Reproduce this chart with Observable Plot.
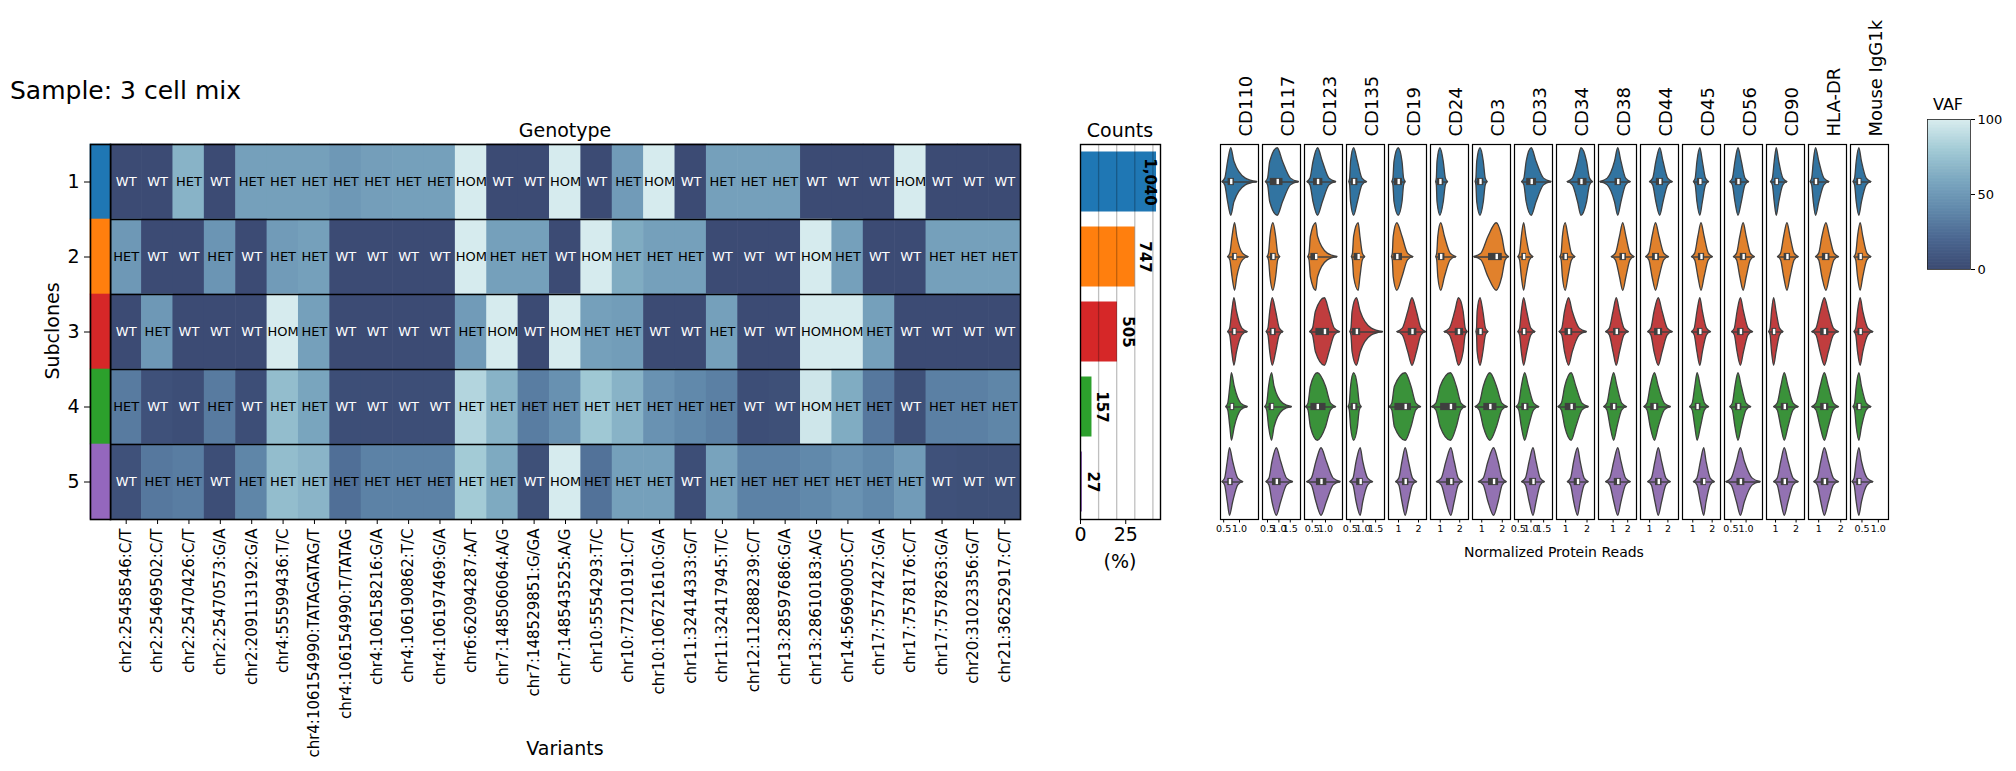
<!DOCTYPE html>
<html><head><meta charset="utf-8">
<script src="https://cdn.jsdelivr.net/npm/d3@7"></script>
<script src="https://cdn.jsdelivr.net/npm/@observablehq/plot@0.6"></script>
<style>
html,body{margin:0;padding:0;background:#fff;}
#root{position:relative;width:2016px;height:771px;font-family:"DejaVu Sans",sans-serif;overflow:hidden;background:#fff;}
.lbl{position:absolute;white-space:nowrap;color:#000;line-height:1;}
svg{overflow:visible;}
</style></head><body><div id="root"></div>
<script>
// ---------- DATA ----------
const variants = ["chr2:25458546:C/T","chr2:25469502:C/T","chr2:25470426:C/T","chr2:25470573:G/A","chr2:209113192:G/A","chr4:55599436:T/C","chr4:106154990:TATAGATAG/T","chr4:106154990:T/TATAG","chr4:106158216:G/A","chr4:106190862:T/C","chr4:106197469:G/A","chr6:62094287:A/T","chr7:148506064:A/G","chr7:148529851:G/GA","chr7:148543525:A/G","chr10:5554293:T/C","chr10:77210191:C/T","chr10:106721610:G/A","chr11:32414333:G/T","chr11:32417945:T/C","chr12:112888239:C/T","chr13:28597686:G/A","chr13:28610183:A/G","chr14:56969005:C/T","chr17:7577427:G/A","chr17:7578176:C/T","chr17:7578263:G/A","chr20:31023356:G/T","chr21:36252917:C/T"];
const subclones = [1,2,3,4,5];
const geno1 = ["WT","WT","HET","WT","HET","HET","HET","HET","HET","HET","HET","HOM","WT","WT","HOM","WT","HET","HOM","WT","HET","HET","HET","WT","WT","WT","HOM","WT","WT","WT"];
const geno2 = ["HET","WT","WT","HET","WT","HET","HET","WT","WT","WT","WT","HOM","HET","HET","WT","HOM","HET","HET","HET","WT","WT","WT","HOM","HET","WT","WT","HET","HET","HET"];
const geno3 = ["WT","HET","WT","WT","WT","HOM","HET","WT","WT","WT","WT","HET","HOM","WT","HOM","HET","HET","WT","WT","HET","WT","WT","HOM","HOM","HET","WT","WT","WT","WT"];
const geno4 = ["HET","WT","WT","HET","WT","HET","HET","WT","WT","WT","WT","HET","HET","HET","HET","HET","HET","HET","HET","HET","WT","WT","HOM","HET","HET","WT","HET","HET","HET"];
const geno5 = ["WT","HET","HET","WT","HET","HET","HET","HET","HET","HET","HET","HET","HET","WT","HOM","HET","HET","HET","WT","HET","HET","HET","HET","HET","HET","HET","WT","WT","WT"];
const vaf1 = [1,1,66,1,55,55,55,50,54,55,55,99,1,1,99,1,52,99,1,55,55,55,1,1,1,99,1,1,1];
const vaf2 = [50,1,1,48,1,52,55,1,1,1,1,99,55,55,1,99,62,55,55,1,1,1,99,55,1,1,55,55,55];
const vaf3 = [1,50,1,1,1,99,55,1,1,1,1,52,99,1,99,55,53,1,1,55,1,1,99,99,55,1,1,1,1];
const vaf4 = [32,5,3,32,3,72,58,3,3,3,3,86,66,33,45,78,66,46,40,35,3,4,96,62,30,4,35,35,38];
const vaf5 = [5,30,33,3,38,72,67,25,36,36,36,80,61,4,99,27,55,55,3,57,36,36,40,46,40,52,5,4,4];
const cloneCounts = [1040,747,505,157,27];
const vafTicks = [0,50,100];
const countTicks = [0,25];
const countGrid = [10,20,30,40];

const proteins = ["CD110","CD117","CD123","CD135","CD19","CD24","CD3","CD33","CD34","CD38","CD44","CD45","CD56","CD90","HLA-DR","Mouse IgG1k"];
const proteinDomains = [[0.4,1.6],[0.28,1.95],[0.21,1.64],[0.35,1.85],[0.5,2.4],[0.5,2.45],[0.55,2.4],[0.35,1.85],[0.57,2.35],[0,2.6],[0.5,2.58],[0.47,2.43],[0.29,1.54],[0.56,2.41],[0.54,2.26],[0.15,1.31]];
const proteinTicks = [[0.5,1.0],[0.5,1.0,1.5],[0.5,1.0],[0.5,1.0,1.5],[1,2],[1,2],[1,2],[0.5,1.0,1.5],[1,2],[1,2],[1,2],[1,2],[0.5,1.0],[1,2],[1,2],[0.5,1.0]];
// per protein, per subclone 1..5: [low, q1, median, q3, high]
const vCD110 = [[0.46,0.64,0.74,0.84,1.56],[0.64,0.78,0.86,0.93,1.29],[0.64,0.77,0.84,0.92,1.26],[0.58,0.71,0.76,0.85,1.26],[0.46,0.63,0.70,0.80,1.12]];
const vCD117 = [[0.43,0.62,0.95,1.18,1.88],[0.50,0.63,0.76,0.88,1.06],[0.46,0.62,0.73,0.88,1.20],[0.40,0.57,0.70,0.81,1.57],[0.45,0.72,0.91,1.10,1.62]];
const vCD123 = [[0.32,0.55,0.72,0.90,1.40],[0.35,0.45,0.65,0.72,1.45],[0.42,0.64,0.98,1.15,1.55],[0.27,0.45,0.71,1.02,1.40],[0.31,0.66,0.85,1.05,1.57]];
const vCD135 = [[0.46,0.53,0.65,0.80,1.16],[0.56,0.65,0.83,0.90,1.09],[0.50,0.59,0.76,0.91,1.79],[0.43,0.53,0.65,0.80,0.95],[0.50,0.75,0.91,1.01,1.40]];
const vCD19 = [[0.69,0.80,1.01,1.20,1.36],[0.67,0.76,0.94,1.20,1.75],[0.94,1.49,1.70,1.92,2.38],[0.56,0.82,1.36,1.65,2.13],[0.88,1.20,1.36,1.52,1.93]];
const vCD24 = [[0.79,0.86,1.01,1.18,1.40],[0.79,0.90,1.05,1.24,1.83],[1.22,1.77,1.96,2.20,2.41],[0.58,1.02,1.55,1.85,2.33],[0.83,1.32,1.57,1.74,2.16]];
const vCD3 = [[0.70,0.78,0.94,1.10,1.29],[0.64,1.33,1.73,2.00,2.33],[0.74,0.80,0.94,1.08,1.33],[0.70,1.10,1.42,1.74,2.27],[0.86,1.33,1.60,1.82,2.22]];
const vCD33 = [[0.65,0.83,1.03,1.22,1.81],[0.50,0.64,0.73,0.82,1.10],[0.50,0.64,0.73,0.85,1.18],[0.43,0.64,0.77,0.92,1.33],[0.65,0.95,1.10,1.22,1.55]];
const vCD34 = [[1.09,1.58,1.74,2.00,2.28],[0.75,0.87,1.00,1.13,1.46],[0.71,0.97,1.16,1.33,1.99],[0.66,0.98,1.28,1.50,2.08],[1.10,1.40,1.58,1.70,2.08]];
const vCD38 = [[0.13,1.13,1.35,1.57,2.21],[0.91,1.47,1.69,1.91,2.47],[0.52,1.03,1.25,1.47,2.08],[0.39,0.83,1.07,1.30,1.95],[0.52,1.08,1.35,1.57,2.21]];
const vCD44 = [[1.02,1.37,1.58,1.76,2.27],[0.81,1.16,1.35,1.54,2.06],[0.92,1.27,1.50,1.71,2.27],[0.71,1.06,1.29,1.50,2.16],[0.92,1.32,1.50,1.68,2.16]];
const vCD45 = [[1.06,1.24,1.39,1.52,1.84],[0.96,1.29,1.45,1.61,2.04],[0.96,1.24,1.39,1.52,1.94],[0.86,1.13,1.25,1.42,1.84],[1.06,1.42,1.59,1.71,2.14]];
const vCD56 = [[0.48,0.65,0.75,0.86,1.10],[0.60,0.81,0.92,1.02,1.29],[0.54,0.72,0.83,0.93,1.23],[0.48,0.65,0.75,0.86,1.17],[0.35,0.70,0.83,0.96,1.48]];
const vCD90 = [[0.78,0.96,1.06,1.18,1.58],[1.12,1.42,1.58,1.73,2.13],[0.69,0.83,0.93,1.05,1.39],[0.93,1.28,1.45,1.63,2.13],[0.93,1.28,1.45,1.63,2.13]];
const vHLADR = [[0.63,0.78,0.88,1.03,1.49],[0.88,1.17,1.35,1.51,1.92],[0.71,1.09,1.28,1.46,1.92],[0.71,1.09,1.28,1.46,1.92],[0.80,1.12,1.28,1.46,1.92]];
const vMouseIgG1k = [[0.24,0.34,0.42,0.50,0.79],[0.27,0.38,0.46,0.54,0.79],[0.27,0.38,0.46,0.54,0.85],[0.24,0.34,0.42,0.50,0.79],[0.21,0.34,0.42,0.50,0.85]];
const violinStats = [vCD110,vCD117,vCD123,vCD135,vCD19,vCD24,vCD3,vCD33,vCD34,vCD38,vCD44,vCD45,vCD56,vCD90,vHLADR,vMouseIgG1k];

// ---------- STYLE ----------
const cloneColors = ["#1f77b4","#ff7f0e","#d62728","#2ca02c","#9467bd"];
const violinColors = ["#3274a1","#e1812c","#c03d3e","#3a923a","#9372b2"];
const vafStops = [0,20,40,50,60,80,100];
const vafColors = ["#3b4a72","#4a6690","#6189ab","#6e98b6","#7ca8c0","#a3cbd6","#d9edef"];
const FONT = "DejaVu Sans";
const baseStyle = {background:"transparent", overflow:"visible", fontFamily:FONT, maxWidth:"none", color:"black"};

const root = document.getElementById("root");
function place(el, left, top){ el.style.position="absolute"; el.style.left=left+"px"; el.style.top=top+"px"; root.appendChild(el); }
function label(text, cx, cy, size, rot=0, weight="normal"){
  const d=document.createElement("div"); d.className="lbl"; d.textContent=text;
  d.style.fontSize=size+"px"; d.style.fontWeight=weight;
  d.style.left=cx+"px"; d.style.top=cy+"px";
  d.style.transform=`translate(-50%,-50%) rotate(${rot}deg)`;
  root.appendChild(d);
}

// ---------- HEATMAP ----------
const genos=[geno1,geno2,geno3,geno4,geno5], vafs=[vaf1,vaf2,vaf3,vaf4,vaf5];
const cells=[];
subclones.forEach((c,i)=>variants.forEach((v,j)=>cells.push({clone:c, variant:v, geno:genos[i][j], vaf:vafs[i][j]})));
const rowH = 75;
const heat = Plot.plot({
  width:914, height:2+375+240, marginLeft:2, marginRight:2, marginTop:2, marginBottom:240,
  x:{type:"band", domain:variants, padding:0, round:false},
  y:{type:"band", domain:subclones, padding:0, round:false, axis:null},
  color:{type:"linear", domain:vafStops, range:vafColors, clamp:true},
  style:baseStyle,
  marks:[
    Plot.cell(cells,{x:"variant", y:"clone", fill:"vaf", inset:-0.3}),
    Plot.text(cells.filter(d=>d.geno==="WT"),{x:"variant", y:"clone", text:"geno", fill:"white", fontSize:13}),
    Plot.text(cells.filter(d=>d.geno!=="WT"),{x:"variant", y:"clone", text:"geno", fill:"black", fontSize:13}),
    Plot.ruleY(subclones.slice(1),{y:d=>d, dy:-rowH/2, stroke:"black", strokeWidth:1.6}),
    Plot.frame({stroke:"black", strokeWidth:1.6}),
    Plot.axisX({tickRotate:-90, tickSize:5, tickPadding:4, fontSize:15, label:null, stroke:"black"})
  ]
});
place(heat,108,142);

// subclone strip
const strip = Plot.plot({
  width:112, height:379, marginLeft:90, marginRight:2, marginTop:2, marginBottom:2,
  x:{domain:[0,1], axis:null},
  y:{type:"band", domain:subclones, padding:0, round:false},
  color:{type:"ordinal", domain:subclones, range:cloneColors},
  style:baseStyle,
  marks:[
    Plot.barX(subclones,{x1:()=>0, x2:()=>1, y:d=>d, fill:d=>d, inset:-0.3}),
    Plot.frame({stroke:"black", strokeWidth:1.6}),
    Plot.axisY({tickSize:6, tickPadding:5, fontSize:19, label:null})
  ]
});
place(strip,0,142);

// ---------- COUNTS ----------
const total = d3.sum(cloneCounts);
const countRows = subclones.map((c,i)=>({clone:c, count:cloneCounts[i], pct:cloneCounts[i]/total*100}));
const fmt = d3.format(",");
const counts = Plot.plot({
  width:84, height:2+375+60, marginLeft:2, marginRight:2, marginTop:2, marginBottom:60,
  x:{domain:[0,44.2]},
  y:{type:"band", domain:subclones, paddingInner:0.2, paddingOuter:0.1, round:false, axis:null},
  color:{type:"ordinal", domain:subclones, range:cloneColors},
  style:baseStyle,
  marks:[
    Plot.barX(countRows,{x:"pct", y:"clone", fill:"clone"}),
    Plot.ruleX(countGrid,{stroke:"black", strokeOpacity:0.25, strokeWidth:1.3}),
    Plot.text(countRows.filter(d=>d.pct<40),{x:"pct", y:"clone", text:d=>fmt(d.count), rotate:90, dx:10, fontSize:15, fontWeight:"bold", fill:"black"}),
    Plot.text(countRows.filter(d=>d.pct>=40),{x:"pct", y:"clone", text:d=>fmt(d.count), rotate:90, dx:-7, fontSize:15, fontWeight:"bold", fill:"black"}),
    Plot.frame({stroke:"black", strokeWidth:1.4}),
    Plot.axisX({ticks:countTicks, tickSize:5, tickPadding:3, fontSize:19, label:null})
  ]
});
place(counts,1078,142);

// ---------- VIOLINS ----------
const halfH = 0.45;
proteins.forEach((name,i)=>{
  const rows = violinStats[i].map(([lo,q1,med,q3,hi],k)=>({clone:k+1, lo, q1, med, q3, hi}));
  const outline = rows.flatMap(r=>[[r.lo,0],[(r.lo+r.q1)/2,0.1],[r.q1,0.6],[r.med,1],[r.q3,0.6],[(r.q3+r.hi)/2,0.1],[r.hi,0]]
      .map(([v,h])=>({clone:r.clone, v, y1:r.clone-h*halfH, y2:r.clone+h*halfH})));
  const dec = proteinTicks[i].some(t=>!Number.isInteger(t));
  const p = Plot.plot({
    width:42, height:525, marginLeft:2, marginRight:2, marginTop:125, marginBottom:25,
    x:{domain:proteinDomains[i]},
    y:{domain:[5.5,0.5], axis:null},
    color:{type:"ordinal", domain:subclones, range:violinColors},
    style:baseStyle,
    marks:[
      Plot.areaY(outline,{x:"v", y1:"y1", y2:"y2", z:"clone", fill:"clone", stroke:"#3f3f3f", strokeWidth:1.3, curve:"monotone-x"}),
      Plot.ruleY(rows,{y:"clone", x1:"lo", x2:"hi", stroke:"#3f3f3f", strokeWidth:1.4}),
      Plot.rect(rows,{x1:"q1", x2:"q3", y1:d=>d.clone-0.048, y2:d=>d.clone+0.048, fill:"#3f3f3f"}),
      Plot.ruleX(rows,{x:"med", y1:d=>d.clone-0.035, y2:d=>d.clone+0.035, stroke:"white", strokeWidth:2.4}),
      Plot.frame({stroke:"black", strokeWidth:1.2}),
      Plot.text([name],{text:d=>d, frameAnchor:"top", dy:-8, rotate:-90, textAnchor:"start", fontSize:18, fill:"black"}),
      Plot.axisX({ticks:proteinTicks[i], tickFormat:t=>dec? t.toFixed(1) : String(t), tickSize:3.5, tickPadding:2, fontSize:9.5, label:null})
    ]
  });
  place(p, 1218+i*42, 19);
});

// ---------- COLORBAR ----------
const cbVals = d3.range(0,100,1);
const cb = Plot.plot({
  width:84, height:152, marginLeft:1, marginRight:40, marginTop:1, marginBottom:1,
  x:{domain:[0,1], axis:null},
  y:{domain:[0,100]},
  color:{type:"linear", domain:vafStops, range:vafColors, clamp:true},
  style:baseStyle,
  marks:[
    Plot.rect(cbVals,{x1:()=>0, x2:()=>1, y1:d=>d, y2:d=>Math.min(d+1.3,100), fill:d=>d+0.5}),
    Plot.frame({stroke:"#222", strokeWidth:0.8}),
    Plot.axisY({anchor:"right", ticks:vafTicks, tickSize:4, tickPadding:3, fontSize:13, label:null})
  ]
});
place(cb,1926,118);

// ---------- TEXT ----------
const t = document.createElement("div"); t.className="lbl"; t.textContent="Sample: 3 cell mix";
t.style.fontSize="25px"; t.style.left="10px"; t.style.top="78px"; root.appendChild(t);
label("Genotype",565,130,19);
label("Subclones",52,331,19,-90);
label("Variants",565,748,19);
label("Counts",1120,130,19);
label("(%)",1120,561,19);
label("Normalized Protein Reads",1554,552,14);
label("VAF",1948,105,16);
</script></body></html>
